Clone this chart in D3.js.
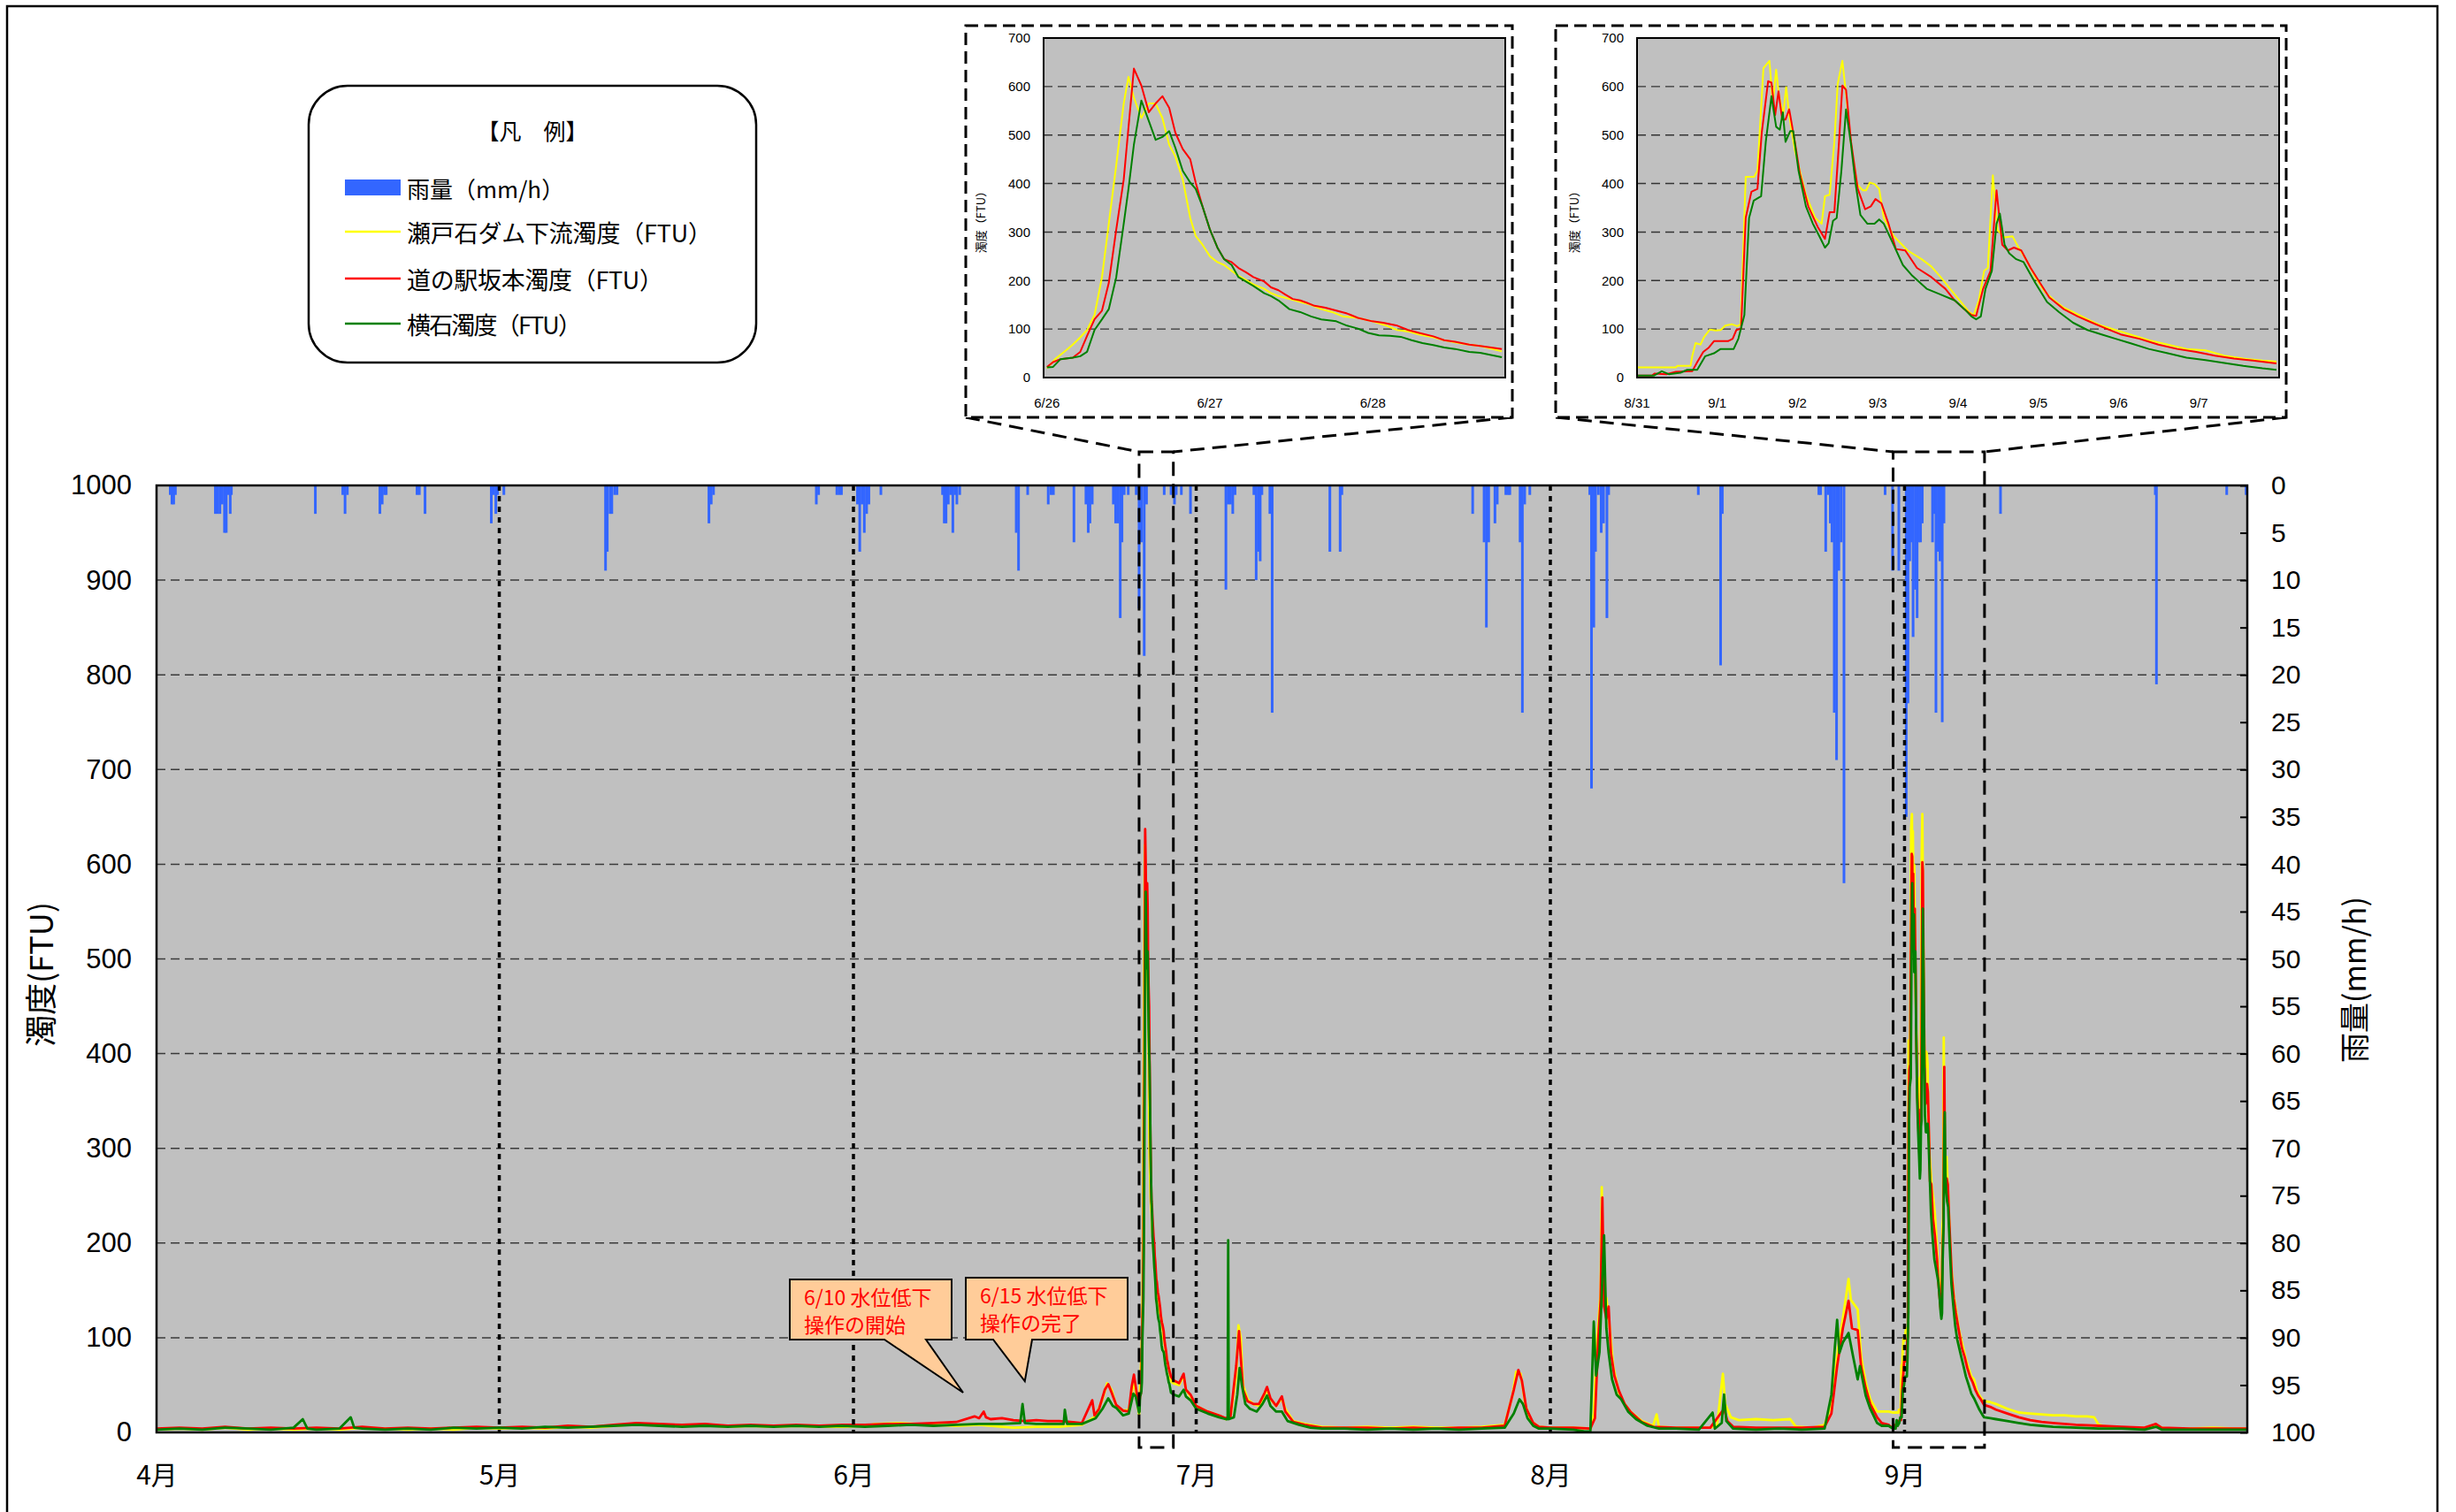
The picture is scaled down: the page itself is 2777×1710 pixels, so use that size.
<!DOCTYPE html>
<html>
<head>
<meta charset="utf-8">
<script src="https://cdn.jsdelivr.net/npm/d3@7"></script>
<style>
  body { margin: 0; background: #fff; }
  svg { display: block; }
</style>
</head>
<body>
<svg id="chart" width="2777" height="1710"></svg>
<script>
// ---------- data ----------
// days are counted from 4/1 00:00 (day 0) ; the season ends on 10/1 (day 183)
const monthLabels = ['4月', '5月', '6月', '7月', '8月', '9月'];
const monthStartDays = [0, 30, 61, 91, 122, 153];
const turbidityTicks = [0, 100, 200, 300, 400, 500, 600, 700, 800, 900, 1000];
const rainTicks = [0, 5, 10, 15, 20, 25, 30, 35, 40, 45, 50, 55, 60, 65, 70, 75, 80, 85, 90, 95, 100];

// hourly rainfall (day, mm/h)
const rainfall = [
  [1.2,1],[1.35,2],[1.5,2],[1.65,1],
  [5.15,3],[5.35,3],[5.55,3],[5.75,2],[5.95,5],[6.1,5],[6.25,1],[6.45,3],[6.55,1],
  [13.9,3],
  [16.3,1],[16.5,3],[16.7,1],
  [19.55,3],[19.75,2],[19.95,1],[20.1,1],
  [22.8,1],[23.0,1],[23.5,3],
  [29.3,4],[29.5,1],[29.7,3],[29.85,1],[30.4,1],
  [39.3,9],[39.45,7],[39.7,3],[39.85,3],[40.1,1],[40.3,1],
  [48.35,4],[48.55,2],[48.75,1],
  [57.75,2],[57.95,1],
  [59.55,1],[59.75,1],[59.95,1],
  [61.35,2],[61.55,7],[61.75,2],[61.95,5],[62.15,3],[62.35,2],
  [63.4,1],
  [68.8,1],[68.95,4],[69.1,4],[69.3,2],[69.5,1],[69.7,5],[69.9,1],[70.05,2],[70.3,1],
  [75.25,5],[75.45,9],
  [76.25,1],
  [78.05,2],[78.3,1],[78.5,1],
  [80.3,6],
  [81.35,2],[81.55,5],[81.7,4],[81.9,2],
  [83.75,2],[83.95,4],[84.15,4],[84.35,14],[84.5,6],[84.7,1],
  [85.05,1],
  [85.75,1],[86.0,13],[86.2,6],[86.45,18],[86.65,2],
  [88.2,1],[88.8,1],[89.1,2],[89.25,1],[89.7,1],[90.5,3],
  [93.6,11],[93.8,2],[94.0,2],[94.2,3],[94.4,1],
  [96.05,1],[96.25,10],[96.45,7],[96.6,8],[96.75,1],
  [97.45,3],[97.65,24],
  [102.7,7],[103.6,7],[103.75,1],
  [115.2,3],
  [116.2,6],[116.4,15],[116.6,6],
  [117.15,4],[117.35,2],
  [118.1,1],[118.3,1],[118.45,1],
  [119.35,6],[119.55,24],[119.75,2],
  [120.2,1],
  [125.45,1],[125.6,32],[125.8,15],[125.95,7],[126.2,1],[126.45,5],[126.65,4],[126.95,14],[127.1,1],
  [134.95,1],
  [136.9,19],[137.05,3],
  [145.5,1],[145.65,1],
  [146.1,7],[146.3,1],[146.5,4],[146.65,6],[146.85,24],[147.05,29],[147.25,9],[147.45,6],[147.7,42],
  [151.3,1],[151.95,9],[152.5,9],
  [153.15,35],[153.3,23],[153.45,8],[153.6,6],[153.75,16],[153.95,11],[154.1,14],[154.25,6],[154.4,6],[154.55,4],
  [155.45,6],[155.6,3],[155.75,24],[155.95,7],[156.1,8],[156.3,25],[156.45,4],
  [161.4,3],
  [174.95,1],[175.05,21],
  [181.2,1],[182.9,1]
];

// turbidity (day, FTU) outside the two detailed periods
const yellowBefore = [[0,3],[2,4],[4,3],[6,5],[8,3],[10,4],[12,3],[14,4],[16,3],[18,5],[20,4],[22,3],[24,4],[26,3],[28,5],[30,4],[32,5],[34,4],[36,6],[38,5],[40,7],[42,9],[44,8],[46,7],[48,8],[50,6],[52,7],[54,6],[56,7],[58,6],[60,6],[62,7],[63,9],[65,10],[66.5,9],[68,8],[70,7],[72,8],[74,6],[75,5],[77,6],[79,6],[81,8],[82.2,17],[82.8,35],[83.2,52],[83.6,45],[84,28],[84.6,23],[85.1,24],[85.4,45],[85.6,52],[85.8,35]];
const redBefore = [[0,4],[2,5],[4,4],[6,6],[8,4],[10,5],[12,4],[14,5],[16,4],[18,6],[20,4],[22,5],[24,4],[26,5],[28,6],[30,5],[32,6],[34,5],[36,7],[38,6],[40,8],[42,10],[44,9],[46,8],[48,9],[50,7],[52,8],[54,7],[56,8],[58,7],[60,8],[62,8],[64,9],[66,9],[68,10],[70,11],[71.6,17],[72,15],[72.4,22],[72.6,16],[73,14],[74,15],[75,13],[76,12],[77,13],[78,12],[79,12],[80,11],[81,10],[81.9,34],[82.1,18],[82.5,25],[83,45],[83.3,51],[83.6,42],[84,29],[84.6,23],[85.1,22],[85.35,48],[85.55,61],[85.75,45]];
const greenBefore = [[0,3],[2,4],[4,3],[6,5],[8,4],[10,3],[12,5],[12.8,14],[13.2,4],[14,3],[16,4],[17,16],[17.3,5],[18,4],[20,3],[22,4],[24,3],[26,5],[28,4],[30,5],[32,4],[34,6],[36,5],[38,6],[40,7],[42,8],[44,7],[46,6],[48,7],[50,6],[52,7],[54,6],[56,7],[58,6],[60,7],[62,6],[64,7],[66,8],[68,7],[70,8],[72,9],[74,9],[75.6,10],[75.8,30],[76,10],[77,9],[78,9],[79.4,9],[79.5,24],[79.7,9],[81,9],[82.2,15],[82.8,25],[83.3,36],[83.7,28],[84,26],[84.6,18],[85.1,20],[85.5,41],[85.7,38]];

const yellowBetween = [[89,52],[89.5,50],[89.9,60],[90.1,45],[90.5,38],[91,28],[92,22],[93,18],[93.6,14],[94,16],[94.5,60],[94.7,113],[94.9,100],[95.1,50],[95.5,35],[96,30],[96.5,28],[97,40],[97.2,45],[97.5,35],[98,28],[98.5,36],[98.8,25],[99.5,12],[100.5,9],[102,6],[104,5],[106,6],[108,5],[110,6],[112,5],[114,5],[116,6],[118,8],[118.7,40],[119,64],[119.4,62],[119.8,30],[120.3,12],[121,6],[122,5],[124,5],[125.5,4],[125.8,20],[126.1,100],[126.4,148],[126.5,259],[126.6,140],[126.9,142],[127.2,110],[127.5,70],[128,42],[128.5,30],[129,22],[130,12],[131,7],[131.3,19],[131.5,6],[133,5],[135,5],[136,5],[136.6,8],[137.1,62],[137.3,30],[137.8,16],[138.5,13],[140,14],[141.5,13],[143,14],[143.5,6],[145,5],[146,8],[146.6,30],[147.2,90],[147.6,120],[148.1,162],[148.3,140],[148.9,130],[149.2,80],[149.6,53],[150,35],[150.6,22],[151,22],[151.6,22]];
const redBetween = [[89,55],[89.5,52],[89.9,62],[90.1,45],[90.5,40],[91,28],[92,22],[93,18],[93.6,15],[94,17],[94.5,70],[94.75,107],[94.9,80],[95.1,45],[95.5,33],[96,30],[96.5,30],[97,42],[97.2,48],[97.5,36],[98,28],[98.5,38],[98.8,22],[99.5,11],[100.5,8],[102,5],[104,5],[106,5],[108,4],[110,5],[112,4],[114,5],[116,5],[118,7],[118.8,45],[119.2,66],[119.5,55],[119.9,25],[120.5,10],[121,6],[122,5],[124,5],[125.5,4],[125.9,15],[126.2,100],[126.4,140],[126.55,248],[126.7,133],[126.9,120],[127.1,133],[127.3,84],[127.6,60],[128,44],[128.5,30],[129,22],[130,11],[131,6],[133,5],[135,5],[136,5],[137.2,25],[137.5,12],[138,6],[140,5],[142,5],[144,5],[146,6],[146.6,20],[147.1,70],[147.6,110],[148.1,139],[148.4,110],[148.9,108],[149.2,70],[149.6,47],[150,30],[150.6,16],[151,10],[151.6,8]];
const greenBetween = [[89,40],[89.5,38],[89.9,45],[90.1,38],[90.5,34],[91,25],[92,20],[93,16],[93.6,14],[93.75,14],[93.8,203],[93.85,14],[94.3,16],[94.6,40],[94.8,68],[95,50],[95.3,30],[95.7,25],[96.3,22],[96.8,30],[97.2,39],[97.5,28],[98,22],[98.5,22],[99,12],[100,8],[101,5],[102,4],[104,4],[106,3],[108,4],[110,3],[112,4],[114,3],[116,4],[118,5],[118.8,20],[119.3,35],[119.6,30],[120,15],[120.5,7],[121,4],[122,4],[124,3],[125,1],[125.5,1],[125.8,117],[126,60],[126.3,85],[126.7,208],[126.9,110],[127.1,84],[127.4,56],[127.8,40],[128.2,35],[128.8,22],[129.5,14],[130.5,7],[131.5,4],[133,4],[135,3],[136.2,21],[136.4,4],[137,10],[137.2,40],[137.4,12],[138,4],[140,3],[142,4],[144,3],[146,4],[146.6,40],[146.9,90],[147.1,119],[147.3,84],[147.6,95],[148.1,105],[148.5,80],[148.9,56],[149.1,70],[149.6,39],[150,25],[150.6,10],[151,7],[151.6,7]];

const yellowAfter = [[160.5,32],[161,30],[162,25],[163,21],[164,20],[165,19],[166,18],[167,18],[168,17],[169,17],[169.6,16],[170,8],[171,5],[172,4],[174,5],[175,8],[175.5,5],[176,4],[178,4],[180,5],[182,4],[183,4]];
const redAfter = [[160.5,27],[161,24],[162,20],[163,16],[164,13],[165,11],[166,10],[167,9],[168,8],[170,7],[172,6],[174,5],[175,9],[175.5,5],[178,4],[180,4],[182,4],[183,4]];
const greenAfter = [[160.5,15],[161,14],[162,12],[163,10],[164,8],[165,7],[166,6],[168,5],[170,4],[172,4],[174,3],[175,6],[175.5,3],[178,3],[180,3],[182,3],[183,3]];

// 6/26 00:00 – 6/28 19:00 (hour, FTU)
const inset1Start = 86;
const inset1Dates = ['6/26', '6/27', '6/28'];
const inset1Yellow = [[0,19],[1.2,38],[2.8,56],[3.8,68],[4.9,83],[5.9,98],[7.0,129],[8.1,207],[9.1,317],[10.2,438],[11.3,565],[12.0,620],[12.8,577],[13.9,535],[15.0,565],[16.0,565],[17.0,535],[18.0,480],[18.9,456],[20.0,408],[21.1,329],[21.9,292],[22.9,274],[24.0,250],[25.1,238],[26.1,232],[27.2,220],[28.2,210],[29.3,201],[30.4,192],[32.0,183],[33.0,174],[34.1,168],[35.7,162],[37.3,156],[38.9,150],[40.4,141],[42.0,135],[43.6,126],[45.8,123],[47.9,116],[50.0,107],[51.6,98],[53.2,95],[54.8,89],[56.9,83],[58.5,77],[60.6,71],[62.2,68],[63.8,65],[67.0,54]];
const inset1Red = [[0,22],[0.9,32],[2.0,38],[3.8,41],[4.9,53],[5.9,86],[7.0,120],[8.1,138],[9.1,195],[10.2,305],[11.3,408],[12.8,637],[13.9,602],[15.0,547],[16.0,565],[17.0,580],[18.0,556],[18.9,505],[20.0,471],[21.1,450],[21.9,402],[22.9,353],[24.0,305],[25.1,268],[26.1,244],[27.2,238],[28.2,226],[29.3,217],[30.4,207],[32.0,198],[33.0,186],[34.1,180],[35.1,171],[36.2,162],[37.3,159],[38.3,154],[39.4,148],[41.0,144],[42.6,138],[44.2,132],[45.8,123],[47.9,116],[49.5,113],[51.6,107],[53.2,98],[54.8,92],[56.9,85],[58.5,77],[60.1,74],[62.2,68],[63.8,65],[67.0,59]];
const inset1Green = [[0,21],[0.9,22],[2.0,38],[3.8,41],[4.9,44],[5.9,53],[7.0,98],[8.1,120],[9.1,141],[10.2,207],[11.3,317],[12.0,389],[12.8,480],[13.9,571],[15.0,529],[16.0,490],[17.0,496],[18.0,508],[18.9,474],[20.0,426],[21.1,402],[21.9,389],[22.9,353],[24.0,305],[25.1,268],[26.1,244],[27.2,232],[28.2,207],[29.3,198],[30.4,189],[32.0,174],[33.0,168],[34.1,159],[35.7,141],[37.3,135],[38.9,126],[40.4,120],[42.6,116],[44.2,107],[45.8,101],[47.3,92],[48.9,87],[50.5,86],[52.1,84],[53.7,77],[55.3,71],[56.9,67],[58.5,62],[60.1,59],[62.2,53],[63.8,51],[67.0,42]];

// 8/31 00:00 – 9/8 00:00 (hour, FTU)
const inset2Start = 152;
const inset2Dates = ['8/31', '9/1', '9/2', '9/3', '9/4', '9/5', '9/6', '9/7'];
const inset2Yellow = [[0,21],[11.6,21],[12,24],[16,24],[16.5,44],[17.5,71],[19,68],[20,83],[21.8,99],[23.6,97],[25,98],[26.4,107],[28.3,110],[30,106],[31,110],[32.5,414],[35,414],[36,426],[37.8,638],[39.6,653],[40.6,565],[41.6,635],[42.4,584],[43.7,541],[44.6,599],[45.5,541],[47.2,468],[48.7,426],[50.5,377],[53.3,329],[55.2,317],[56.2,374],[57.6,377],[59,486],[60,605],[61.4,653],[62.5,584],[64,480],[65.8,399],[67.5,386],[68.5,386],[69.6,402],[71,399],[72.4,389],[73.8,329],[76.7,292],[80.9,262],[85.1,244],[88,229],[90.8,207],[93.6,183],[96.5,159],[99.3,135],[100.7,129],[102.2,159],[103.8,220],[104.9,226],[106.4,417],[107.8,304],[109.9,289],[112.3,291],[114.1,268],[116.3,244],[119.1,207],[121.9,177],[124.8,159],[127.6,144],[130.4,135],[134.7,120],[138.9,107],[143.1,98],[147.4,89],[153,77],[158.7,68],[164.3,59],[170,56],[175.6,45],[181.3,39],[187,35],[191.2,33]];
const inset2Red = [[0,4],[4.5,4],[5.2,8],[8.8,7],[11.6,12],[16.5,13],[18,32],[19.8,53],[21.5,62],[23,75],[27.2,75],[28.6,80],[29.7,98],[31.1,101],[32.5,329],[34.2,383],[36,389],[37.3,505],[39.2,611],[40.2,608],[41.3,541],[42.3,590],[43.4,532],[44.4,532],[45.5,553],[47.2,486],[48.7,420],[51.2,353],[54,311],[56.2,286],[57.6,341],[59,341],[60.4,486],[61.4,602],[62.5,593],[64,486],[66,389],[68.2,347],[69.9,353],[71.3,368],[73.1,359],[75.2,317],[77.4,265],[80.2,262],[83.7,226],[88,207],[92.2,183],[95,159],[97.9,141],[100,129],[101.4,127],[103.5,183],[105.7,220],[107.5,386],[109.2,274],[110.9,262],[112.7,268],[114.9,262],[117.7,226],[120.5,195],[123.3,165],[127.6,141],[131.8,126],[136.1,113],[140.3,101],[144.6,89],[150.2,80],[155.9,68],[161.5,59],[167.2,53],[172.8,45],[178.5,39],[184.1,35],[191.2,29]];
const inset2Green = [[0,4],[5,4],[7.4,13],[9.5,7],[13,10],[15,16],[18,16],[20.4,44],[23,50],[25,59],[28.9,59],[30.3,80],[32.1,129],[33.5,329],[34.9,365],[37.1,374],[38.5,486],[40.2,580],[41.6,517],[42.7,511],[43.6,547],[44.4,486],[45.8,508],[46.7,508],[48.3,426],[50.5,353],[52.6,317],[54.7,289],[56.2,268],[57.3,277],[58.6,323],[59.7,329],[61.1,426],[62.5,553],[64,480],[65.3,402],[66.8,335],[68.9,317],[71,317],[72.4,326],[73.8,317],[76.7,274],[79.5,232],[82.3,210],[86.6,183],[90.8,171],[95,159],[97.9,141],[100,126],[101.4,120],[102.8,126],[104.2,183],[106.1,220],[107.5,317],[108.5,338],[109.9,274],[111.3,256],[113.4,244],[115.6,238],[119.1,195],[122.6,156],[126.2,135],[130.4,113],[134.7,98],[138.9,89],[143.1,80],[147.4,71],[153,59],[158.7,50],[164.3,41],[170,36],[175.6,30],[181.3,24],[187,19],[191.2,16]];
const insetTicks = [0, 100, 200, 300, 400, 500, 600, 700];

const seriesNames = ['瀬戸石ダム下流濁度（FTU）', '道の駅坂本濁度（FTU）', '横石濁度（FTU）'];
const seriesColors = ['#FFFF00', '#FF0000', '#008000'];

// callouts: day the pointer reaches, FTU level of the tip, two text lines
const callouts = [
  { day: 70.6, value: 42, lines: ['6/10 水位低下', '操作の開始'] },
  { day: 76.0, value: 54, lines: ['6/15 水位低下', '操作の完了'] }
];

// ---------- drawing ----------
const JP = '"Noto Sans CJK JP", "Noto Sans", sans-serif';
const NUM = '"Liberation Sans", Arial, sans-serif';
const svg = d3.select('#chart');

// outer frame (open at the bottom edge of the page)
svg.append('path')
  .attr('d', 'M8,1712 V7 H2756 V1712')
  .attr('fill', 'none').attr('stroke', '#000').attr('stroke-width', 2.5);

const M = { left: 177, right: 2541, top: 549, bottom: 1620 };
const x = d3.scaleLinear().domain([0, 183]).range([M.left, M.right]);
const y = d3.scaleLinear().domain([0, 1000]).range([M.bottom, M.top]);
const yRain = d3.scaleLinear().domain([0, 100]).range([M.top, M.bottom]);

const hoursToDays = (arr, start) => arr.map(d => [start + d[0] / 24, d[1]]);
const mainSeries = [
  yellowBefore.concat(hoursToDays(inset1Yellow, inset1Start), yellowBetween, hoursToDays(inset2Yellow, inset2Start), yellowAfter),
  redBefore.concat(hoursToDays(inset1Red, inset1Start), redBetween, hoursToDays(inset2Red, inset2Start), redAfter),
  greenBefore.concat(hoursToDays(inset1Green, inset1Start), greenBetween, hoursToDays(inset2Green, inset2Start), greenAfter)
];

const main = svg.append('g');
main.append('rect')
  .attr('x', M.left).attr('y', M.top)
  .attr('width', M.right - M.left).attr('height', M.bottom - M.top)
  .attr('fill', '#C0C0C0');

main.selectAll('line.grid')
  .data(turbidityTicks.filter(v => v > 0 && v < 1000))
  .join('line').attr('class', 'grid')
  .attr('x1', M.left).attr('x2', M.right)
  .attr('y1', d => y(d)).attr('y2', d => y(d))
  .attr('stroke', '#3a3a3a').attr('stroke-width', 1.5).attr('stroke-dasharray', '10,6');

main.selectAll('rect.rain')
  .data(rainfall)
  .join('rect').attr('class', 'rain')
  .attr('x', d => x(d[0]) - 1.5).attr('y', M.top)
  .attr('width', 3).attr('height', d => yRain(d[1]) - M.top)
  .attr('fill', '#3366FF');

const mainLine = d3.line().x(d => x(d[0])).y(d => y(d[1]));
mainSeries.forEach((s, i) => {
  main.append('path')
    .attr('d', mainLine(s))
    .attr('fill', 'none').attr('stroke', seriesColors[i])
    .attr('stroke-width', 2.8).attr('stroke-linejoin', 'round');
});

// month separators
main.selectAll('line.month')
  .data(monthStartDays.slice(1))
  .join('line').attr('class', 'month')
  .attr('x1', d => x(d)).attr('x2', d => x(d))
  .attr('y1', M.top).attr('y2', M.bottom)
  .attr('stroke', '#000').attr('stroke-width', 3.5).attr('stroke-dasharray', '6,6');

main.append('rect')
  .attr('x', M.left).attr('y', M.top)
  .attr('width', M.right - M.left).attr('height', M.bottom - M.top)
  .attr('fill', 'none').attr('stroke', '#000').attr('stroke-width', 2.5);

// left axis
const axL = svg.append('g').attr('transform', `translate(${M.left},0)`)
  .call(d3.axisLeft(y).tickValues(turbidityTicks).tickFormat(d3.format('d')).tickSize(0).tickPadding(28));
axL.select('.domain').remove();
axL.selectAll('text').attr('font-family', NUM).attr('font-size', 31).attr('fill', '#000');

// right axis
const axR = svg.append('g').attr('transform', `translate(${M.right},0)`)
  .call(d3.axisRight(yRain).tickValues(rainTicks).tickFormat(d3.format('d')).tickSizeInner(-8).tickSizeOuter(0).tickPadding(27));
axR.select('.domain').remove();
axR.selectAll('line').attr('stroke', '#000').attr('stroke-width', 2);
axR.selectAll('text').attr('font-family', NUM).attr('font-size', 30).attr('fill', '#000');

// month labels
const axB = svg.append('g').attr('transform', `translate(0,${M.bottom})`)
  .call(d3.axisBottom(x).tickValues(monthStartDays).tickFormat((d, i) => monthLabels[i]).tickSize(0).tickPadding(38));
axB.select('.domain').remove();
axB.selectAll('text').attr('font-family', JP).attr('font-size', 30).attr('fill', '#000');

svg.append('text')
  .attr('transform', 'translate(44,1102) rotate(-90)')
  .attr('text-anchor', 'middle').attr('dominant-baseline', 'central')
  .attr('font-family', JP).attr('font-size', 36).text('濁度(FTU)');
svg.append('text')
  .attr('transform', 'translate(2660,1108) rotate(-90)')
  .attr('text-anchor', 'middle').attr('dominant-baseline', 'central')
  .attr('font-family', JP).attr('font-size', 34).text('雨量(mm/h)');

// callouts
callouts.forEach((c, i) => {
  const bx = i === 0 ? 893 : 1092, by = i === 0 ? 1447 : 1445;
  const bw = 183, bh = i === 0 ? 68 : 70;
  const b0 = i === 0 ? 1000 : 1123, b1 = i === 0 ? 1047 : 1167;
  const tx = x(c.day), ty = y(c.value);
  const p = `M${bx},${by} H${bx + bw} V${by + bh} H${b1} L${tx},${ty} L${b0},${by + bh} H${bx} Z`;
  svg.append('path').attr('d', p)
    .attr('fill', '#FFCC99').attr('stroke', '#000').attr('stroke-width', 2).attr('stroke-linejoin', 'miter');
  c.lines.forEach((t, k) => {
    svg.append('text')
      .attr('x', bx + 16).attr('y', by + 19 + k * 31)
      .attr('dominant-baseline', 'central')
      .attr('font-family', JP).attr('font-size', 23).attr('fill', '#FF0000')
      .text(t);
  });
});

// dashed boxes marking the detailed periods and connectors to the insets
const zoomBoxes = [
  { d0: inset1Start, d1: inset1Start + 3, frame: [1092, 29, 1710, 472] },
  { d0: inset2Start, d1: inset2Start + 8, frame: [1759, 29, 2585, 472] }
];
zoomBoxes.forEach(b => {
  svg.append('rect')
    .attr('x', x(b.d0)).attr('y', 511)
    .attr('width', x(b.d1) - x(b.d0)).attr('height', 1637 - 511)
    .attr('fill', 'none').attr('stroke', '#000').attr('stroke-width', 3).attr('stroke-dasharray', '16,9');
  [[b.frame[0], x(b.d0)], [b.frame[2], x(b.d1)]].forEach(([fx, bx]) => {
    svg.append('line')
      .attr('x1', fx).attr('y1', b.frame[3]).attr('x2', bx).attr('y2', 511)
      .attr('stroke', '#000').attr('stroke-width', 3).attr('stroke-dasharray', '16,9');
  });
});

// insets
function drawInset(cfg) {
  const g = svg.append('g');
  const [fx0, fy0, fx1, fy1] = cfg.frame;
  g.append('rect').attr('x', fx0).attr('y', fy0).attr('width', fx1 - fx0).attr('height', fy1 - fy0)
    .attr('fill', '#fff').attr('stroke', '#000').attr('stroke-width', 3).attr('stroke-dasharray', '14,7');
  const sx = d3.scaleLinear().domain(cfg.hours).range([cfg.px0, cfg.px1]);
  const sy = d3.scaleLinear().domain([0, 700]).range([cfg.py1, cfg.py0]);
  g.append('rect').attr('x', cfg.px0).attr('y', cfg.py0)
    .attr('width', cfg.px1 - cfg.px0).attr('height', cfg.py1 - cfg.py0).attr('fill', '#C0C0C0');
  g.selectAll('line.grid').data(insetTicks.filter(v => v > 0 && v < 700)).join('line')
    .attr('x1', cfg.px0).attr('x2', cfg.px1)
    .attr('y1', d => sy(d)).attr('y2', d => sy(d))
    .attr('stroke', '#333').attr('stroke-width', 1.4).attr('stroke-dasharray', '10,6');
  const ln = d3.line().x(d => sx(d[0])).y(d => sy(d[1]));
  cfg.series.forEach((s, i) => {
    g.append('path').attr('d', ln(s)).attr('fill', 'none')
      .attr('stroke', seriesColors[i]).attr('stroke-width', 2).attr('stroke-linejoin', 'round');
  });
  g.append('rect').attr('x', cfg.px0).attr('y', cfg.py0)
    .attr('width', cfg.px1 - cfg.px0).attr('height', cfg.py1 - cfg.py0)
    .attr('fill', 'none').attr('stroke', '#000').attr('stroke-width', 2);
  const ay = g.append('g').attr('transform', `translate(${cfg.px0},0)`)
    .call(d3.axisLeft(sy).tickValues(insetTicks).tickSize(0).tickPadding(15));
  ay.select('.domain').remove();
  ay.selectAll('text').attr('font-family', NUM).attr('font-size', 15).attr('fill', '#000');
  g.selectAll('text.date').data(cfg.dates).join('text')
    .attr('x', (d, i) => sx(i * 24)).attr('y', 455)
    .attr('text-anchor', 'middle').attr('dominant-baseline', 'central')
    .attr('font-family', NUM).attr('font-size', 15).text(d => d);
  g.append('text')
    .attr('transform', `translate(${cfg.px0 - 72},248) rotate(-90)`)
    .attr('text-anchor', 'middle').attr('dominant-baseline', 'central')
    .attr('font-family', JP).attr('font-size', 13).text('濁度（FTU）');
}
drawInset({ frame: zoomBoxes[0].frame, px0: 1180, px1: 1702, py0: 43, py1: 427, hours: [-0.5, 67.5],
  dates: inset1Dates, series: [inset1Yellow, inset1Red, inset1Green] });
drawInset({ frame: zoomBoxes[1].frame, px0: 1851, px1: 2577, py0: 43, py1: 427, hours: [0, 192],
  dates: inset2Dates, series: [inset2Yellow, inset2Red, inset2Green] });

// legend
const lg = svg.append('g');
lg.append('rect').attr('x', 349).attr('y', 97).attr('width', 506).attr('height', 313).attr('rx', 44)
  .attr('fill', '#fff').attr('stroke', '#000').attr('stroke-width', 2.5);
lg.append('text').attr('x', 602).attr('y', 147).attr('text-anchor', 'middle').attr('dominant-baseline', 'central')
  .attr('font-family', JP).attr('font-size', 25).text('【凡　例】');
lg.append('rect').attr('x', 390).attr('y', 203).attr('width', 63).attr('height', 18).attr('fill', '#3366FF');
lg.append('text').attr('x', 460).attr('y', 212).attr('dominant-baseline', 'central')
  .attr('font-family', JP).attr('font-size', 26).text('雨量（mm/h）');
const legendY = [262, 315, 366];
const legendTextWidths = [345, 290, 198];
seriesNames.forEach((n, i) => {
  lg.append('line').attr('x1', 390).attr('x2', 453).attr('y1', legendY[i]).attr('y2', legendY[i])
    .attr('stroke', seriesColors[i]).attr('stroke-width', 2.5);
  lg.append('text').attr('x', 460).attr('y', legendY[i]).attr('dominant-baseline', 'central')
    .attr('font-family', JP).attr('font-size', 27)
    .attr('textLength', legendTextWidths[i]).attr('lengthAdjust', 'spacing').text(n);
});
</script>
</body>
</html>
